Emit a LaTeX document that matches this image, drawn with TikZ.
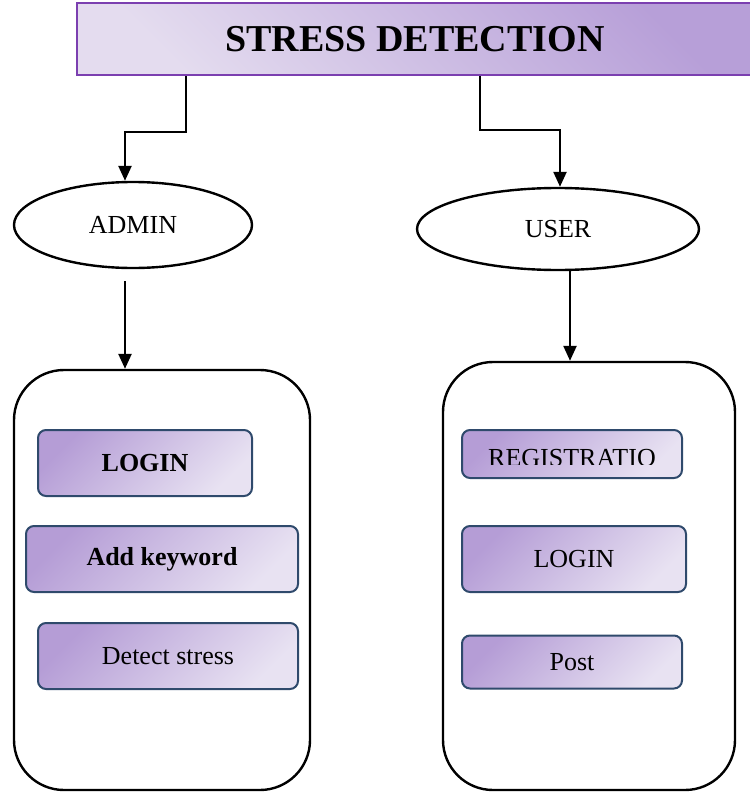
\documentclass[tikz,border=0pt]{standalone}
\usepackage{fontspec}
\setmainfont{Liberation Serif}
\usetikzlibrary{arrows.meta,shapes.geometric}

\definecolor{titleline}{HTML}{7B3FB0}
\definecolor{titledark}{HTML}{B79FD8}
\definecolor{titlelight}{HTML}{E4DCEF}
\definecolor{boxline}{HTML}{2F4A6C}
\definecolor{boxdark}{HTML}{B59DD6}
\definecolor{boxlight}{HTML}{E8E2F2}

\begin{document}
\begin{tikzpicture}[x=1pt,y=-1pt,line width=2.4pt,
  font=\fontsize{26}{30}\selectfont,
  arr/.style={-{Triangle[width=13pt,length=15pt]}},
  actor/.style={ellipse,draw,inner sep=0pt},
  panel/.style={draw,rounded corners=50pt},
  ibox/.style={draw=boxline,line width=2pt,rounded corners=8pt,
    top color=boxdark,bottom color=boxlight,shading angle=45}]

\useasboundingbox (0,0) rectangle (749,797);

% Title bar
\node[draw=titleline,line width=2.5pt,top color=titledark,bottom color=titlelight,
  shading angle=-45,minimum width=676pt,minimum height=72pt,
  font=\fontsize{38}{42}\selectfont\bfseries] (title) at (415,39) {STRESS DETECTION};

% ---- Actors ----
\node[actor,minimum width=238pt,minimum height=86pt] (admin) at (133,225) {ADMIN};
\node[actor,minimum width=282pt,minimum height=82pt] (user) at (558,229) {USER};

\draw[arr] ([xshift=-229pt]title.south) -- ++(0,56) -| ([xshift=-8pt]admin.north);
\draw[arr] ([xshift=65pt]title.south) -- ++(0,54) -| ([xshift=2pt]user.north);

% ---- Panels ----
\node[panel,minimum width=296pt,minimum height=420pt] (lpanel) at (162,580) {};
\node[panel,minimum width=292pt,minimum height=428pt] (rpanel) at (589,576) {};

\draw[arr] ([shift={(-8pt,-12pt)}]admin.south) -- ([xshift=-8pt]admin.south |- lpanel.north);
\draw[arr] ([xshift=12pt]user.south) -- ([xshift=12pt]user.south |- rpanel.north);

% admin functions
\node[ibox,minimum width=214pt,minimum height=66pt] (alogin) at (145,463) {\bfseries LOGIN};
\node[ibox,minimum width=272pt,minimum height=66pt] (akey) at (162,559) {\bfseries Add keyword};
\node[ibox,minimum width=260pt,minimum height=66pt] (adetect) at (168,656) {Detect stress};

% user functions (text cut off at the bottom)
\node[ibox,minimum width=220pt,minimum height=48pt] (ureg) at (572,454) {};
\begin{scope}
  \clip (ureg.north west) rectangle ([yshift=15pt]ureg.south east);
  \node[anchor=base] (uregtext) at (572,466) {REGISTRATIO};
\end{scope}
\node[ibox,minimum width=224pt,minimum height=66pt] (ulogin) at (574,559) {LOGIN};
\node[ibox,minimum width=220pt,minimum height=53pt] (upost) at (572,662) {Post};

\end{tikzpicture}
\end{document}
